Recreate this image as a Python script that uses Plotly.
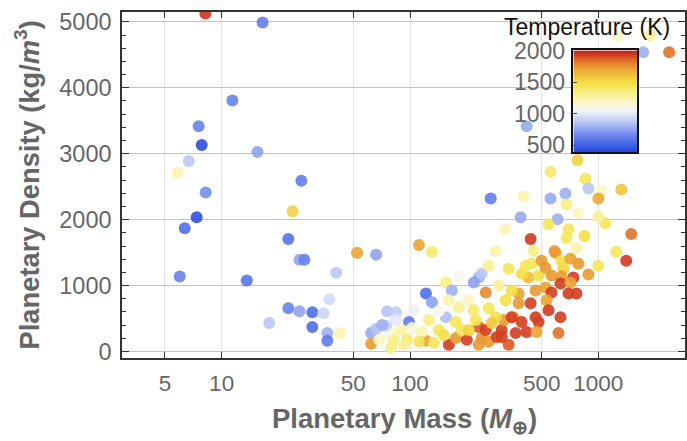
import plotly.graph_objects as go

# ---- data ----
mass = [8.2, 16.5, 11.4, 7.55, 7.84, 15.5, 6.69, 5.85, 26.5, 8.23,
        23.8, 7.37, 6.37, 22.6, 25.9, 27.5, 52.4, 66.1, 40.6, 5.99,
        13.6, 37.3, 22.6, 25.9, 30.3, 34.7, 17.9, 30.3, 36.4, 36.4,
        42.6, 62.2, 62.2, 66.1, 74.6, 75.6, 82.3,
        111.6, 130.8, 268.3, 285.1, 318.2, 155, 231.8, 218.1, 240.4,
        252.5, 121.5, 130.8, 166.8, 160.8, 84.3, 98.8, 155, 261.8,
        90.7, 102.5, 96.4, 121.5, 134, 160.8, 175.2, 200.3, 188.5,
        231.8, 240.4, 261.8, 252.5, 288.6, 306.7, 314.4, 285.1, 223.5,
        175.2, 142.4, 115.7, 77.4, 71.1, 84.3, 111.6, 82.3,
        181.7, 205.2, 142.4, 105, 295.8, 261.8, 181.7, 218.1, 151.3,
        205.2, 126, 93, 68.6, 79.3, 231.8, 334.1, 481.4, 271.6, 355.1,
        426.2, 481.4, 453.1, 652.9,
        334.1, 391.4, 442.2, 592.3, 499.4, 637.2, 711.1, 783.9, 1000,
        1245, 1406, 885.4, 564.1, 637.2, 737.4, 629.4, 711.1, 694,
        764.9, 524.4, 564.1, 464.2, 530.9, 436.8, 377.4, 346.5, 377.4,
        543.9, 629.4, 464.2, 346.5, 391.4, 363.8, 415.9, 469.9, 614.4,
        306.7, 322.1, 411, 524.4,
        774.4, 557.3, 853.6, 669, 557.3, 885.4, 1037, 1000, 1323,
        401.1, 677.3, 783.9, 386.7, 606.9, 543.9, 694, 1089, 1000,
        436.8, 677.3, 843.2, 1495, 585.1, 322.1, 764.9, 415.9,
        2376, 1730, 1884, 1276]

density = [5126, 4991, 3806, 3416, 3131, 3026, 2891, 2711, 2591, 2411,
           2126, 2036, 1871, 1706, 1391, 1391, 1496, 1466, 1196, 1136,
           1076, 791, 656, 611, 596, 581, 431, 371, 281, 161,
           281, 281, 116, 341, 386, 611, 281,
           1616, 1511, 2321, 1526, 1856, 1046, 1121, 1046, 1181,
           896, 881, 746, 926, 776, 596, 446, 521, 656,
           326, 356, 176, 161, 131, 101, 206, 176, 326,
           371, 206, 146, 326, 221, 326, 476, 521, 476,
           446, 326, 296, 221, 401, 476, 146, 176,
           1151, 776, 611, 626, 1001, 1301, 671, 626, 251,
           326, 476, 101, 176, 56, 101, 101, 446, 431, 521,
           1121, 1151, 1526, 1256,
           1256, 1181, 1331, 1496, 1376, 1376, 1406, 1331, 1301,
           1511, 1376, 1166, 1151, 1136, 1121, 1031, 1046, 881,
           881, 971, 896, 926, 776, 731, 881, 926, 731,
           626, 521, 521, 521, 446, 281, 296, 296, 281,
           221, 776, 1301, 1271,
           2906, 2726, 2621, 2396, 2321, 2471, 2426, 2321, 2456,
           2351, 2231, 2096, 2036, 2006, 1931, 1856, 1946, 2051,
           1706, 1721, 1751, 1781, 1526, 1856, 1571, 3416,
           4541, 4541, 4796, 4781]

temperature = [1970, 620, 640, 640, 430, 760, 880, 1250, 620, 700,
               1550, 440, 560, 580, 760, 640, 1720, 760, 880, 640,
               590, 950, 640, 760, 560, 930, 880, 560, 800, 620,
               1250, 780, 1750, 860, 900, 860, 1200,
               1720, 1400, 620, 1250, 1150, 1350, 800, 760, 880,
               1800, 560, 760, 800, 1250, 900, 620, 850, 1450,
               1250, 1150, 1400, 1720, 1450, 1950, 1750, 1950, 1450,
               1900, 1780, 1750, 1950, 1950, 1950, 1750, 1500, 1450,
               1450, 1450, 1250, 1100, 800, 1000, 1450, 1350,
               1100, 1200, 1100, 1050, 1300, 1300, 1300, 1400, 1500,
               1550, 1350, 1300, 1200, 1350, 1750, 1900, 1950, 1600, 1700,
               1650, 1500, 1350, 1550,
               1450, 1500, 1450, 1750, 1750, 1500, 1720, 1750, 1450,
               1450, 1960, 1750, 1750, 1750, 1950, 1950, 1720, 1950,
               1950, 1720, 1950, 1750, 1720, 1950, 1720, 1500, 1750,
               1950, 1950, 1950, 1950, 1950, 1950, 1950, 1720, 1850,
               1950, 1500, 1450, 1750,
               1550, 1400, 1450, 800, 780, 880, 1200, 1700, 1600,
               1250, 1350, 1200, 780, 800, 1450, 1450, 1450, 1300,
               1960, 1450, 1500, 1850, 1750, 1200, 1250, 780,
               1850, 800, 1300, 1200]

x_tick_vals = [5, 10, 50, 100, 500, 1000]
x_tick_text = ["5", "10", "50", "100", "500", "1000"]
y_tick_vals = [0, 1000, 2000, 3000, 4000, 5000]
cbar_tick_vals = [500, 1000, 1500, 2000]
T_MIN, T_MAX = 385, 2010

colorscale = [
    [0.0, "#2242d8"],
    [0.07, "#3f60e6"],
    [0.194, "#7890ee"],
    [0.286, "#b0c0f4"],
    [0.378, "#e2e7f8"],
    [0.428, "#f7f7f4"],
    [0.50, "#fbf6c2"],
    [0.594, "#f8ee84"],
    [0.686, "#f4e044"],
    [0.778, "#eeba3a"],
    [0.871, "#e68a2c"],
    [0.932, "#dc5a24"],
    [1.0, "#c81c1c"],
]

FONT = "Liberation Sans, Arial, Helvetica, sans-serif"
GRAY = "#666666"

fig = go.Figure()
fig.add_trace(go.Scatter(
    x=mass, y=density, mode="markers",
    marker=dict(size=12, color=temperature, colorscale=colorscale,
                cmin=T_MIN, cmax=T_MAX, opacity=0.9, line=dict(width=0)),
    showlegend=False, hoverinfo="skip"))

# inset colour bar drawn as a smooth heatmap on its own axes
fig.add_trace(go.Heatmap(
    x=[0, 1], y=[T_MIN, T_MAX], z=[[T_MIN, T_MIN], [T_MAX, T_MAX]],
    colorscale=colorscale, zmin=T_MIN, zmax=T_MAX, zsmooth="best",
    showscale=False, xaxis="x2", yaxis="y2", hoverinfo="skip"))

fig.update_layout(
    width=687, height=441,
    margin=dict(l=122, r=0, t=8, b=83),
    paper_bgcolor="white", plot_bgcolor="white",
    font=dict(family=FONT, color=GRAY),
    xaxis=dict(type="log", range=[0.471, 3.46],
               tickvals=x_tick_vals, ticktext=x_tick_text,
               tickfont=dict(size=22.5, color=GRAY),
               showgrid=True, gridcolor="#e2e2e2", gridwidth=1,
               showline=True, linecolor="#333333", linewidth=1.5,
               mirror="ticks", ticks="inside", ticklen=6, tickcolor="#333333",
               ticklabelstandoff=4, zeroline=False),
    yaxis=dict(range=[-99, 5150], tickvals=y_tick_vals,
               tickfont=dict(size=23.5, color=GRAY),
               showgrid=True, gridcolor="#c4c4c4", gridwidth=1.4,
               showline=True, linecolor="#333333", linewidth=1.5,
               mirror="ticks", ticks="inside", ticklen=7, tickcolor="#333333",
               minor=dict(dtick=200, ticks="inside", ticklen=4,
                          tickcolor="#333333", showgrid=False),
               ticklabelstandoff=4, zeroline=False),
    xaxis2=dict(domain=[0.8018, 0.915], anchor="y2", range=[0, 1],
                showticklabels=False, ticks="", showgrid=False,
                showline=True, mirror=True, linecolor="#111111",
                linewidth=1.5, zeroline=False, fixedrange=True),
    yaxis2=dict(domain=[0.594, 0.889], anchor="x2", range=[T_MIN, T_MAX],
                tickvals=cbar_tick_vals, side="left",
                tickfont=dict(size=23, color=GRAY),
                ticks="inside", ticklen=4, tickcolor="#555555",
                showgrid=False, showline=True, mirror=True,
                linecolor="#111111", linewidth=1.5, zeroline=False,
                ticklabelstandoff=2, fixedrange=True),
    annotations=[
        dict(text="Planetary Mass (<i>M</i><sub>⊕</sub>)", xref="paper",
             yref="paper", x=0.502, y=-0.125, xanchor="center",
             yanchor="top", showarrow=False,
             font=dict(size=27.5, color=GRAY, family=FONT, weight="bold")),
        dict(text="Planetary Density (kg/<i>m</i><sup>3</sup>)",
             xref="paper", yref="paper", x=-0.168, y=0.5,
             xanchor="center", yanchor="middle", textangle=-90,
             showarrow=False,
             font=dict(size=27.3, color=GRAY, family=FONT, weight="bold")),
        dict(text="Temperature (K)", xref="paper", yref="paper",
             x=(503 - 122) / 565, y=(358 - 23) / 350, xanchor="left",
             yanchor="middle", showarrow=False,
             font=dict(size=23, color="#111111", family=FONT)),
    ],
)

fig.write_html("out.html")
